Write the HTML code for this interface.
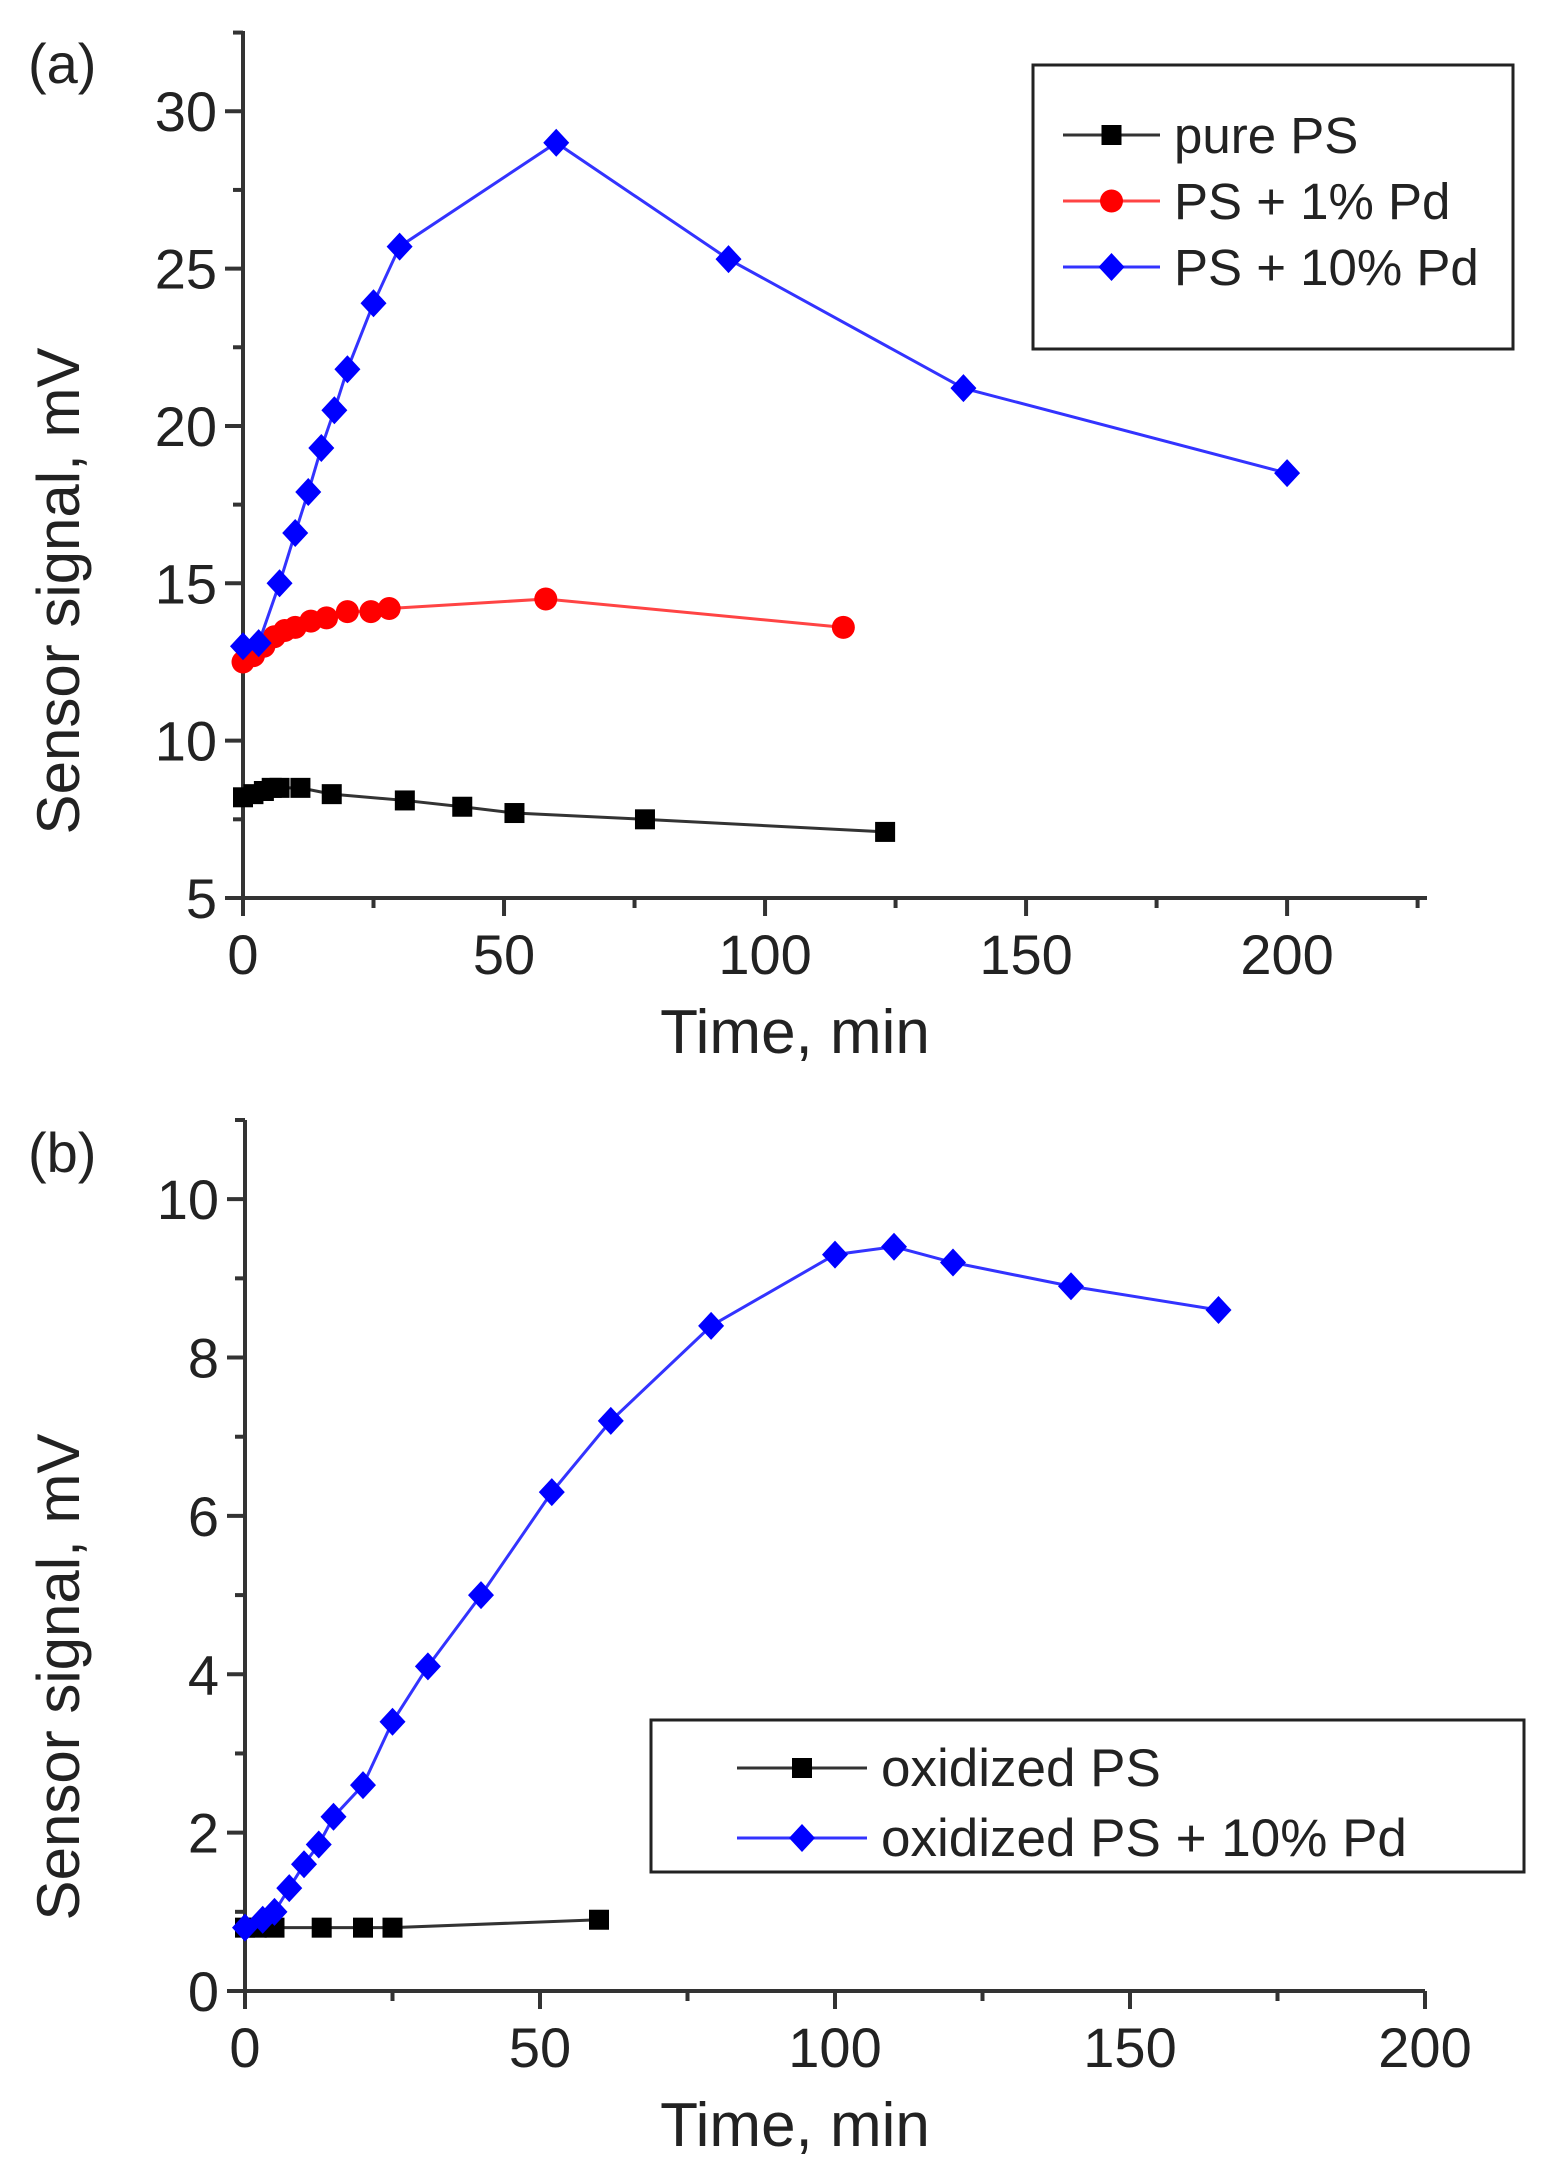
<!DOCTYPE html>
<html><head><meta charset="utf-8"><style>
html,body{margin:0;padding:0;background:#fff;}
svg{display:block;font-family:"Liberation Sans",sans-serif;}
</style></head><body>
<svg id="fig" width="1549" height="2173" viewBox="0 0 1549 2173" xmlns="http://www.w3.org/2000/svg"></svg>
<script>
// Panel (a) data
const aPureX=[0,2,4,5.5,7,11,17,31,42,52,77,123];
const aPureY=[8.2,8.3,8.4,8.5,8.5,8.5,8.3,8.1,7.9,7.7,7.5,7.1];
const a1X=[0,2,4,6,8,10,13,16,20,24.5,28,58,115];
const a1Y=[12.5,12.7,13,13.3,13.5,13.6,13.8,13.9,14.1,14.1,14.2,14.5,13.6];
const a10X=[0,3,7,10,12.5,15,17.5,20,25,30,60,93,138,200];
const a10Y=[13,13.1,15,16.6,17.9,19.3,20.5,21.8,23.9,25.7,29,25.3,21.2,18.5];
const aXTicks=[0,50,100,150,200];
const aYTicks=[5,10,15,20,25,30];
// Panel (b) data
const bOxX=[0,2,5,13,20,25,60];
const bOxY=[0.8,0.8,0.8,0.8,0.8,0.8,0.9];
const bPdX=[0,3,5,7.5,10,12.5,15,20,25,31,40,52,62,79,100,110,120,140,165];
const bPdY=[0.8,0.9,1,1.3,1.6,1.85,2.2,2.6,3.4,4.1,5,6.3,7.2,8.4,9.3,9.4,9.2,8.9,8.6];
const bXTicks=[0,50,100,150,200];
const bYTicks=[0,2,4,6,8,10];

const NS="http://www.w3.org/2000/svg";
const svg=document.getElementById('fig');
function mk(tag,attrs,parent){const e=document.createElementNS(NS,tag);for(const k in attrs)e.setAttribute(k,attrs[k]);(parent||svg).appendChild(e);return e;}
function txt(s,attrs,parent){const e=mk('text',attrs,parent);e.textContent=s;return e;}

function marker(g,shape,x,y,color){
  let m;
  if(shape==='sq') m=mk('rect',{x:x-10,y:y-10,width:20,height:20,fill:color},g);
  else if(shape==='ci') m=mk('circle',{cx:x,cy:y,r:11.5,fill:color},g);
  else m=mk('polygon',{points:`${x},${y-14} ${x+13},${y} ${x},${y+14} ${x-13},${y}`,fill:color},g);
  return m;
}

function panel(p){
  const sx=v=>p.L+(v-p.x0)/(p.x1-p.x0)*(p.R-p.L);
  const sy=v=>p.B-(v-p.y0)/(p.y1-p.y0)*(p.B-p.T);
  const g=mk('g',{});
  
  
  const ax=mk('g',{stroke:'#333','stroke-width':4},g);
  
  
  mk('line',{x1:p.L,y1:p.T,x2:p.L,y2:p.B+1},ax);
  mk('line',{x1:p.L-1,y1:p.B,x2:p.R,y2:p.B},ax);
  for(let v=p.x0;v<=p.x1+0.01;v+=p.xMinor){
    const major=p.xTicks.includes(v);
    mk('line',{x1:sx(v),y1:p.B,x2:sx(v),y2:p.B+(major?18:10)},ax);
  }
  for(let v=p.y0;v<=p.y1+0.01;v+=p.yMinor){
    const major=p.yTicks.some(t=>Math.abs(t-v)<1e-6);
    mk('line',{x1:p.L,y1:sy(v),x2:p.L-(major?18:10),y2:sy(v)},ax);
  }
  p.xTicks.forEach(v=>{const t=txt(String(v),{x:sx(v),y:p.B+76,'font-size':56,'text-anchor':'middle',fill:'#222'},g);
    });
  p.yTicks.forEach(v=>{const t=txt(String(v),{x:p.L-26,y:sy(v)+20,'font-size':56,'text-anchor':'end',fill:'#222'},g);
    });
  const xt=txt('Time, min',{x:795,y:p.B+155,'font-size':62,'text-anchor':'middle',fill:'#222'},g);
  
  const yt=txt('Sensor signal, mV',{x:0,y:0,'font-size':60,'text-anchor':'middle',fill:'#222',transform:`translate(79,${p.ytc}) rotate(-90)`},g);
  
  const pl=txt(p.label,{x:28,y:p.T+52,'font-size':56,fill:'#222'},g);
  
  p.series.forEach(s=>{
    const sg=mk('g',{},g);
    
    
    const pts=s.x.map((v,i)=>sx(v)+','+sy(s.y[i])).join(' ');
    mk('polyline',{points:pts,fill:'none',stroke:s.line,'stroke-width':3},sg);
    s.x.forEach((v,i)=>{const m=marker(sg,s.shape,sx(v),sy(s.y[i]),s.color);
      });
  });
  const lg=mk('g',{},g);
  
  
  mk('rect',{x:p.leg.x,y:p.leg.y,width:p.leg.w,height:p.leg.h,fill:'#fff',stroke:'#222','stroke-width':3},lg);
  p.series.forEach((s,i)=>{
    const eg=mk('g',{},lg);
    
    
    const y=p.leg.y+p.leg.r0+i*p.leg.dy;
    const lx=p.leg.x+p.leg.lx;
    mk('line',{x1:lx,y1:y,x2:lx+p.leg.ll,y2:y,stroke:s.line,'stroke-width':3},eg);
    marker(eg,s.shape,lx+p.leg.ll/2,y,s.color);
    txt(s.name,{x:lx+p.leg.ll+14,y:y+18,'font-size':p.leg.fs,fill:'#222'},eg);
  });
}

panel({name:'panel-a',label:'(a)',L:243,R:1427,T:31,B:898,x0:0,x1:226.8,y0:5,y1:32.55,ytc:591,
  xTicks:aXTicks,yTicks:aYTicks,xMinor:25,yMinor:2.5,
  leg:{x:1033,y:65,w:480,h:284,r0:70,dy:66,lx:30,ll:97,fs:51},
  series:[
    {id:'series-pure-ps',name:'pure PS',x:aPureX,y:aPureY,color:'#000',line:'#333',shape:'sq'},
    {id:'series-ps-1pd',name:'PS + 1% Pd',x:a1X,y:a1Y,color:'#f00',line:'#f44',shape:'ci'},
    {id:'series-ps-10pd',name:'PS + 10% Pd',x:a10X,y:a10Y,color:'#00f',line:'#33f',shape:'di'}
  ]});
panel({name:'panel-b',label:'(b)',L:245,R:1425,T:1120,B:1991,x0:0,x1:200,y0:0,y1:11,ytc:1677,
  xTicks:bXTicks,yTicks:bYTicks,xMinor:25,yMinor:1,
  leg:{x:651,y:1720,w:873,h:152,r0:48,dy:70,lx:86,ll:130,fs:53},
  series:[
    {id:'series-oxidized-ps',name:'oxidized PS',x:bOxX,y:bOxY,color:'#000',line:'#333',shape:'sq'},
    {id:'series-oxidized-ps-10pd',name:'oxidized PS + 10% Pd',x:bPdX,y:bPdY,color:'#00f',line:'#33f',shape:'di'}
  ]});
</script>
</body></html>
